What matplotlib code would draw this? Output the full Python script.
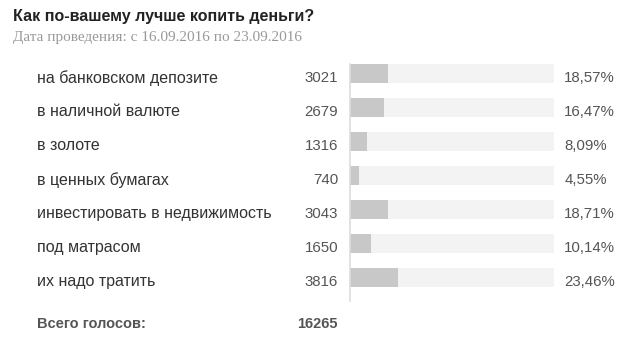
import matplotlib
matplotlib.use("Agg")
import matplotlib.pyplot as plt

answers = ["на банковском депозите", "в наличной валюте", "в золоте", "в ценных бумагах",
           "инвестировать в недвижимость", "под матрасом", "их надо тратить"]
votes = [3021, 2679, 1316, 740, 3043, 1650, 3816]
percents = [18.57, 16.47, 8.09, 4.55, 18.71, 10.14, 23.46]
total_votes = 16265

W, H = 625, 354
fig = plt.figure(figsize=(W / 100, H / 100), dpi=100)
fig.patch.set_facecolor("white")

# bar area in pixels: x 350..554, y 64..301
ax = fig.add_axes([350 / W, 1 - 301 / H, 204 / W, 237 / H])
rows = list(range(len(answers)))
ax.barh(rows, [100] * len(rows), height=0.56, color="#f3f3f3", left=0)
ax.barh(rows, percents, height=0.56, color="#c8c8c8")
ax.set_xlim(0, 100)
ax.set_ylim(6.69, -0.28)
ax.set_xticks([])
ax.set_yticks([])
for s in ["top", "right", "bottom"]:
    ax.spines[s].set_visible(False)
ax.spines["left"].set_color("#dddddd")
ax.spines["left"].set_linewidth(1.2)
ax.set_facecolor("none")

font = "Liberation Sans"
dy = 0.13  # text sits a little below the bar centre
for i, (a, v, p) in enumerate(zip(answers, votes, percents)):
    ax.text(-313 / 204 * 100, i + dy, a, ha="left", va="center", fontsize=11.5,
            family=font, color="#333333", clip_on=False)
    ax.text(-12 / 204 * 100, i + dy, str(v), ha="right", va="center", fontsize=10.8,
            family=font, color="#555555", clip_on=False)
    ax.text(105, i + dy, f"{p:.2f}".replace(".", ",") + "%", ha="left", va="center",
            fontsize=10.8, family=font, color="#555555", clip_on=False)

fig.text(13 / W, 1 - 17 / H, "Как по-вашему лучше копить деньги?", ha="left", va="center",
         fontsize=11.5, fontweight="bold", family=font, color="#222222")
fig.text(13 / W, 1 - 38 / H, "Дата проведения: с 16.09.2016 по 23.09.2016", ha="left",
         va="center", fontsize=11, family="Liberation Serif", color="#999999")
fig.text(37 / W, 1 - 324 / H, "Всего голосов:", ha="left", va="center", fontsize=10.5,
         fontweight="bold", family=font, color="#555555")
fig.text(338 / W, 1 - 324 / H, str(total_votes), ha="right", va="center", fontsize=10.5,
         fontweight="bold", family=font, color="#555555")

fig.savefig("out.png", dpi=100, facecolor="white")
